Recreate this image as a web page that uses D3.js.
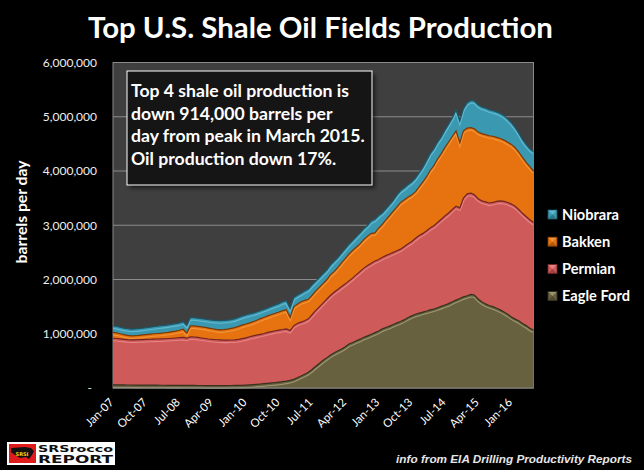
<!DOCTYPE html>
<html>
<head>
<meta charset="utf-8">
<script src="https://cdnjs.cloudflare.com/ajax/libs/d3/7.8.5/d3.min.js"></script>
<style>
  html, body { margin: 0; padding: 0; background: #000; }
  svg { display: block; }
</style>
</head>
<body>
<svg id="chart" width="644" height="470"></svg>
<script>
// monthly production, thousand barrels per day, Jan-07 .. Jul-16
var eagleFord = [
  58, 57, 56, 56, 55, 55, 54, 54, 53, 53, 52, 52,
  52, 51, 51, 50, 50, 49, 49, 48, 48, 47, 47, 46,
  46, 45, 45, 44, 44, 44, 45, 45, 46, 47, 48, 50,
  53, 57, 62, 68, 74, 80, 87, 94, 100, 108, 117, 127,
  140, 160, 190, 220, 255, 290, 340, 400, 455, 510, 560, 610,
  650, 685, 720, 760, 810, 840, 870, 900, 935, 960, 990, 1020,
  1050, 1090, 1115, 1140, 1170, 1200, 1225, 1260, 1300, 1330, 1360, 1380,
  1400, 1420, 1440, 1455, 1480, 1505, 1530, 1555, 1590, 1620, 1650, 1680,
  1700, 1725, 1715, 1640, 1590, 1550, 1520, 1500, 1470, 1440, 1400, 1360,
  1310, 1270, 1240, 1190, 1150, 1100, 1070
];
var permian = [
  859, 855, 849, 842, 835, 831, 834, 836, 840, 843, 847, 849,
  851, 854, 857, 862, 867, 873, 879, 885, 870, 898, 893, 886,
  876, 867, 858, 851, 845, 842, 839, 839, 839, 839, 847, 860,
  872, 888, 898, 907, 916, 925, 938, 946, 955, 960, 961, 963,
  920, 990, 1000, 995, 985, 985, 1010, 1030, 1045, 1060, 1080, 1100,
  1120, 1135, 1150, 1160, 1165, 1190, 1220, 1250, 1275, 1300, 1310, 1320,
  1320, 1320, 1325, 1330, 1330, 1330, 1335, 1350, 1360, 1370, 1400, 1430,
  1450, 1480, 1510, 1535, 1570, 1605, 1640, 1670, 1700, 1730, 1670, 1820,
  1880, 1865, 1845, 1850, 1860, 1880, 1890, 1920, 1970, 2010, 2040, 2060,
  2080, 2080, 2050, 2030, 2010, 2000, 1980
];
var bakken = [
  110, 103, 95, 87, 80, 76, 77, 80, 85, 89, 93, 99,
  102, 105, 110, 115, 121, 128, 137, 150, 95, 200, 205, 205,
  206, 206, 202, 197, 191, 186, 191, 201, 213, 226, 240, 250,
  255, 255, 262, 273, 288, 300, 305, 315, 323, 332, 347, 355,
  240, 350, 355, 375, 375, 360, 360, 360, 360, 360, 360, 380,
  380, 410, 440, 470, 495, 510, 510, 510, 530, 540, 550, 520,
  580, 610, 660, 710, 760, 810, 860, 860, 860, 860, 860, 900,
  950, 1000, 1060, 1110, 1170, 1210, 1260, 1310, 1350, 1390, 1200, 1240,
  1210, 1210, 1220, 1230, 1240, 1240, 1240, 1220, 1180, 1150, 1130, 1110,
  1100, 1080, 1060, 1030, 1000, 980, 950
];
var niobrara = [
  122, 120, 120, 120, 122, 123, 123, 125, 125, 127, 128, 130,
  135, 138, 137, 138, 137, 138, 135, 140, 145, 155, 150, 150,
  150, 150, 153, 158, 165, 170, 170, 165, 162, 163, 165, 165,
  165, 165, 158, 152, 147, 145, 145, 150, 152, 155, 165, 165,
  170, 170, 165, 155, 175, 190, 190, 180, 180, 180, 180, 180,
  190, 180, 180, 180, 180, 180, 190, 200, 200, 200, 230, 250,
  230, 210, 200, 200, 200, 220, 220, 220, 230, 240, 250, 260,
  270, 300, 310, 310, 310, 310, 320, 330, 340, 390, 400, 410,
  470, 500, 510, 500, 490, 490, 480, 470, 470, 460, 450, 430,
  400, 370, 350, 330, 330, 330, 360
];
var tickLabels = ["Jan-07", "Oct-07", "Jul-08", "Apr-09", "Jan-10", "Oct-10", "Jul-11",
                  "Apr-12", "Jan-13", "Oct-13", "Jul-14", "Apr-15", "Jan-16"];
var yTicks = [0, 1000, 2000, 3000, 4000, 5000, 6000];
var legendNames = ["Niobrara", "Bakken", "Permian", "Eagle Ford"];
var noteLines = ["Top 4 shale oil production is", "down 914,000 barrels per",
                 "day from peak in March 2015.", "Oil production down 17%."];

var colors = {
  "Niobrara":   {fill: "#3b98b1", hi: "#72c6db", edge: "#1c5666"},
  "Bakken":     {fill: "#e6730f", hi: "#f6a04c", edge: "#7a3a06"},
  "Permian":    {fill: "#cf5a5a", hi: "#ef9292", edge: "#732525"},
  "Eagle Ford": {fill: "#686140", hi: "#b1aa82", edge: "#36321e"}
};

var months = d3.timeMonth.range(new Date(2007, 0, 1), new Date(2016, 7, 1));
var rows = months.map(function(m, i) {
  return {date: m, "Eagle Ford": eagleFord[i], "Permian": permian[i], "Bakken": bakken[i], "Niobrara": niobrara[i]};
});
var layers = d3.stack().keys(["Eagle Ford", "Permian", "Bakken", "Niobrara"])(rows);

var plotL = 113, plotR = 533.5, plotT = 62.5, plotB = 388;
var x = d3.scaleTime().domain([months[0], months[months.length - 1]]).range([plotL, plotR]);
var y = d3.scaleLinear().domain([0, 6000]).range([plotB, plotT]);

var svg = d3.select("#chart");
svg.append("rect").attr("width", 644).attr("height", 470).attr("fill", "#000");

function fitWidth(t, w) {
  var len = t.node().getComputedTextLength();
  var fs = parseFloat(t.attr("font-size"));
  t.attr("font-size", (fs * w / len).toFixed(2));
}

var defs = svg.append("defs");
defs.append("filter").attr("id", "blur").append("feGaussianBlur").attr("stdDeviation", 2);

// title
var title = svg.append("text")
  .attr("x", 320.5).attr("y", 38)
  .attr("text-anchor", "middle")
  .attr("font-family", "Lato, sans-serif")
  .attr("font-weight", "bold")
  .attr("font-size", 28)
  .attr("fill", "#fff")
  .text("Top U.S. Shale Oil Fields Production");
fitWidth(title, 465);

// plot area
svg.append("rect")
  .attr("x", plotL).attr("y", plotT)
  .attr("width", plotR - plotL).attr("height", plotB - plotT)
  .attr("fill", "#3f3f3f")
  .attr("stroke", "#8a8a8a").attr("stroke-width", 1);

svg.append("g").selectAll("line")
  .data(yTicks.filter(function(d) { return d > 0 && d < 6000; }))
  .enter().append("line")
  .attr("x1", plotL).attr("x2", plotR)
  .attr("y1", function(d) { return y(d); }).attr("y2", function(d) { return y(d); })
  .attr("stroke", "#8c8c8c").attr("stroke-width", 1);

// stacked areas
var area = d3.area()
  .x(function(d) { return x(d.data.date); })
  .y0(function(d) { return y(d[0]); })
  .y1(function(d) { return y(d[1]); });
var topLine = d3.line()
  .x(function(d) { return x(d.data.date); })
  .y(function(d) { return y(d[1]); });

layers.forEach(function(l, i) {
  defs.append("clipPath").attr("id", "clip" + i).append("path").attr("d", area(l));
});

svg.append("g").selectAll("path")
  .data(layers)
  .enter().append("path")
  .attr("d", area)
  .attr("fill", function(d) { return colors[d.key].fill; });

// bevel look: light band just under each top edge, dark edge on top
layers.forEach(function(l, i) {
  svg.append("path")
    .attr("d", topLine(l))
    .attr("clip-path", "url(#clip" + i + ")")
    .attr("transform", "translate(0,2)")
    .attr("fill", "none")
    .attr("stroke", colors[l.key].hi)
    .attr("stroke-width", 2.2)
    .attr("stroke-opacity", 0.75);
});
layers.forEach(function(l) {
  svg.append("path")
    .attr("d", topLine(l))
    .attr("fill", "none")
    .attr("stroke", colors[l.key].edge)
    .attr("stroke-width", 1.2);
});

svg.append("line")
  .attr("x1", plotL).attr("x2", plotR).attr("y1", plotB).attr("y2", plotB)
  .attr("stroke", "#8a8a8a");

// y axis
var yAxis = svg.append("g")
  .attr("transform", "translate(" + plotL + ",0)")
  .call(d3.axisLeft(y).tickValues(yTicks).tickSize(0).tickPadding(16)
    .tickFormat(function(d) { return d === 0 ? "-" : d3.format(",")(d * 1000); }));
yAxis.select(".domain").remove();
yAxis.selectAll("text")
  .attr("font-family", "Lato, sans-serif")
  .attr("font-size", 12)
  .attr("fill", "#eee")
  .attr("dx", function(d) { return d === 0 ? -5 : 0; });

var yTitle = svg.append("text")
  .attr("transform", "translate(27,212) rotate(-90)")
  .attr("text-anchor", "middle")
  .attr("font-family", "Lato, sans-serif")
  .attr("font-weight", "bold")
  .attr("font-size", 13)
  .attr("fill", "#fff")
  .text("barrels per day");
fitWidth(yTitle, 103);

// x axis
var parse = d3.timeParse("%b-%y");
var xAxis = svg.append("g")
  .attr("transform", "translate(0," + plotB + ")")
  .call(d3.axisBottom(x).tickValues(tickLabels.map(parse)).tickSize(0)
    .tickFormat(d3.timeFormat("%b-%y")));
xAxis.select(".domain").remove();
xAxis.selectAll("text")
  .attr("font-family", "Lato, sans-serif")
  .attr("font-size", 11.5)
  .attr("fill", "#fff")
  .attr("text-anchor", "end")
  .attr("x", -9.9).attr("y", 7.3).attr("dy", "0.35em")
  .attr("transform", "rotate(-45)");

// annotation box
svg.append("rect")
  .attr("x", 130).attr("y", 74).attr("width", 245).attr("height", 114)
  .attr("fill", "#000").attr("opacity", 0.6).attr("filter", "url(#blur)");
svg.append("rect")
  .attr("x", 127).attr("y", 71).attr("width", 245).attr("height", 114)
  .attr("fill", "#151515").attr("stroke", "#fff").attr("stroke-width", 1);
var note = svg.append("g").selectAll("text")
  .data(noteLines)
  .enter().append("text")
  .attr("x", 131)
  .attr("y", function(d, i) { return 97 + i * 22.6; })
  .attr("font-family", "Lato, sans-serif")
  .attr("font-weight", "bold")
  .attr("font-size", 16)
  .attr("fill", "#fff")
  .text(function(d) { return d; });
var longest = note.filter(function(d, i) { return i === 2; });
fitWidth(longest, 234);
note.attr("font-size", longest.attr("font-size"));

// legend
var leg = svg.append("g").selectAll("g")
  .data(legendNames)
  .enter().append("g")
  .attr("transform", function(d, i) { return "translate(548," + (214.5 + i * 27.2) + ")"; });
leg.append("rect")
  .attr("x", 0).attr("y", -4.5).attr("width", 9).attr("height", 9)
  .attr("fill", function(d) { return colors[d].fill; })
  .attr("stroke", function(d) { return colors[d].edge; }).attr("stroke-width", 0.8);
leg.append("path")
  .attr("d", "M0.5,-4 L8.5,-4 L4.5,0 Z")
  .attr("fill", function(d) { return colors[d].hi; }).attr("opacity", 0.7);
leg.append("path")
  .attr("d", "M0.5,4 L8.5,4 L4.5,0 Z")
  .attr("fill", function(d) { return colors[d].edge; }).attr("opacity", 0.5);
var legText = leg.append("text")
  .attr("x", 14).attr("dy", "0.36em")
  .attr("font-family", "Lato, sans-serif")
  .attr("font-weight", "bold")
  .attr("font-size", 14)
  .attr("fill", "#fff")
  .text(function(d) { return d; });
var ef = legText.filter(function(d) { return d === "Eagle Ford"; });
fitWidth(ef, 68);
legText.attr("font-size", ef.attr("font-size"));

// footer
var foot = svg.append("text")
  .attr("x", 632).attr("y", 463)
  .attr("text-anchor", "end")
  .attr("font-family", "Liberation Sans, Arial, sans-serif")
  .attr("font-weight", "bold")
  .attr("font-style", "italic")
  .attr("font-size", 13)
  .attr("fill", "#e6e6e6")
  .text("info from EIA Drilling Productivity Reports");
fitWidth(foot, 236);

// logo
var logo = svg.append("g");
logo.append("rect").attr("x", 7).attr("y", 442).attr("width", 108).attr("height", 23).attr("fill", "#fff");
logo.append("rect").attr("x", 9).attr("y", 444).attr("width", 27).attr("height", 19).attr("fill", "#e01b1b");
logo.append("path")
  .attr("d", "M11,448 L25,447 L31,448 L34,451 L32,455 L29,459 L26,457 L20,458 L15,455 L11,452 Z")
  .attr("fill", "#111");
logo.append("text")
  .attr("x", 22).attr("y", 455.5).attr("text-anchor", "middle")
  .attr("font-family", "DejaVu Sans, sans-serif").attr("font-weight", "bold")
  .attr("font-size", 5).attr("fill", "#f5d800").text("SRSI");
logo.append("text")
  .attr("x", 38).attr("y", 452)
  .attr("font-family", "DejaVu Sans, sans-serif").attr("font-weight", "bold")
  .attr("font-size", 9).attr("fill", "#111")
  .attr("textLength", 75).attr("lengthAdjust", "spacingAndGlyphs")
  .text("SRSrocco");
logo.append("text")
  .attr("x", 38).attr("y", 462.5)
  .attr("font-family", "DejaVu Sans, sans-serif").attr("font-weight", "bold")
  .attr("font-size", 11).attr("fill", "#111")
  .attr("textLength", 75).attr("lengthAdjust", "spacingAndGlyphs")
  .text("REPORT");
</script>
</body>
</html>
